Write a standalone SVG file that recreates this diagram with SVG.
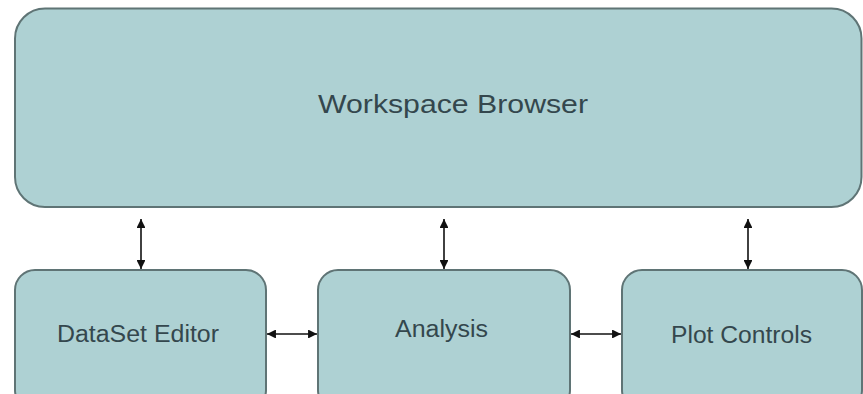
<svg xmlns="http://www.w3.org/2000/svg" width="863" height="394" viewBox="0 0 863 394">
<style>
.box{fill:#aed1d3;stroke:#5f7475;stroke-width:2}
.lbl{font-family:"Liberation Sans",Arial,sans-serif;fill:#34474d;text-anchor:middle}
.conn{stroke:#111;stroke-width:1.6;fill:none;marker-start:url(#ah);marker-end:url(#ah)}
</style>
<defs>
<marker id="ah" viewBox="0 0 10 10" refX="10" refY="5" markerWidth="5.6" markerHeight="5.6" orient="auto-start-reverse" markerUnits="strokeWidth">
<path d="M0,0 L10,5 L0,10 z" fill="#111"/>
</marker>
</defs>
<rect width="863" height="394" fill="#ffffff"/>
<g id="workspace-browser">
<rect class="box" x="15" y="8.5" width="846.5" height="198.5" rx="30" ry="30"/>
<text class="lbl" x="453" y="113" font-size="25.5" textLength="270" lengthAdjust="spacingAndGlyphs">Workspace Browser</text>
</g>
<g id="dataset-editor">
<rect class="box" x="15" y="270" width="251" height="140" rx="20" ry="20"/>
<text class="lbl" x="138" y="342" font-size="23" textLength="162" lengthAdjust="spacingAndGlyphs">DataSet Editor</text>
</g>
<g id="analysis">
<rect class="box" x="318" y="270" width="252" height="140" rx="20" ry="20"/>
<text class="lbl" x="441.5" y="337" font-size="23" textLength="93" lengthAdjust="spacingAndGlyphs">Analysis</text>
</g>
<g id="plot-controls">
<rect class="box" x="622" y="270" width="240" height="140" rx="20" ry="20"/>
<text class="lbl" x="741.5" y="343" font-size="23" textLength="141" lengthAdjust="spacingAndGlyphs">Plot Controls</text>
</g>
<g id="connectors">
<line class="conn" x1="141" y1="219" x2="141" y2="269"/>
<line class="conn" x1="444" y1="219" x2="444" y2="269"/>
<line class="conn" x1="748" y1="219" x2="748" y2="269"/>
<line class="conn" x1="267" y1="334" x2="317" y2="334"/>
<line class="conn" x1="571" y1="334" x2="621" y2="334"/>
</g>
</svg>
